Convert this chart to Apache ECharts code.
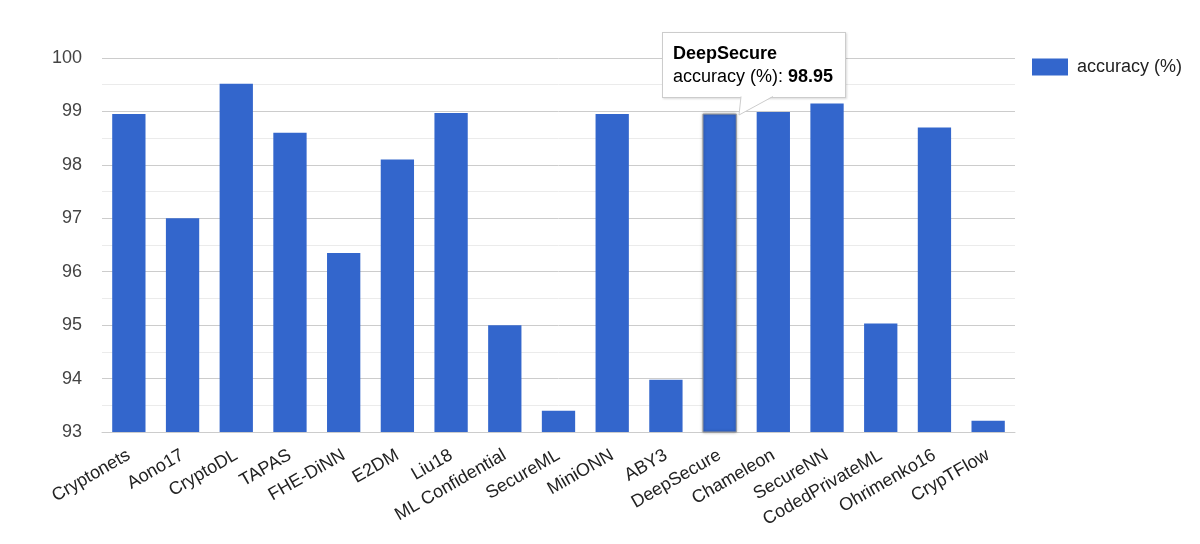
<!DOCTYPE html>
<html>
<head>
<meta charset="utf-8">
<script src="https://cdn.jsdelivr.net/npm/echarts@6/dist/echarts.min.js"></script>
<style>
  html, body { margin: 0; padding: 0; background: #fff; }
  #bars { width: 1200px; height: 544px; }
</style>
</head>
<body>
<div id="bars"></div>
<script>
var methods = ['Cryptonets', 'Aono17', 'CryptoDL', 'TAPAS', 'FHE-DiNN', 'E2DM', 'Liu18',
  'ML Confidential', 'SecureML', 'MiniONN', 'ABY3', 'DeepSecure', 'Chameleon', 'SecureNN',
  'CodedPrivateML', 'Ohrimenko16', 'CrypTFlow'];
var accuracy = [98.95, 97.0, 99.52, 98.6, 96.35, 98.1, 98.97, 95.0, 93.4, 98.95, 93.98,
  98.95, 98.99, 99.15, 95.03, 98.7, 93.21];
var seriesName = 'accuracy (%)';
var shownIndex = 11; // DeepSecure, tooltip open in the picture

var font = "Arial, 'Liberation Sans', sans-serif";

function tipHtml(p) {
  // box + little tail pointing down to the bar
  return '<div style="font-family:' + font + ';font-size:18px;color:#000;line-height:23px;">' +
    '<b>' + p.name + '</b><br>' + p.seriesName + ': <b>' + p.value.toFixed(2) + '</b></div>' +
    '<svg width="40" height="22" style="position:absolute;left:76px;top:63px;overflow:visible">' +
    '<polygon points="2,0 34,0 0,19" fill="#fff" stroke="none"/>' +
    '<polyline points="2,0.5 0,19 34,0.5" fill="none" stroke="#ccc" stroke-width="1"/></svg>';
}

var chart = echarts.init(document.getElementById('bars'), null, { renderer: 'canvas' });
chart.setOption({
  animation: false,
  textStyle: { fontFamily: font },
  grid: { left: 102, right: 185, top: 58, bottom: 112 },
  legend: {
    left: 1027, top: 53,
    itemWidth: 36, itemHeight: 17, itemGap: 10,
    icon: 'rect',
    textStyle: { fontSize: 18, color: '#222', padding: [0, 0, 0, 4] },
    selectedMode: false
  },
  tooltip: {
    trigger: 'item',
    triggerOn: 'none',
    alwaysShowContent: true,
    transitionDuration: 0,
    backgroundColor: '#fff',
    borderColor: '#ccc',
    borderWidth: 1,
    padding: [9, 12, 9, 10],
    textStyle: { fontSize: 18, color: '#000' },
    extraCssText: 'border-radius:0;box-shadow:1px 1px 2px rgba(0,0,0,0.15);overflow:visible;',
    position: function () { return [662, 32]; },
    formatter: tipHtml
  },
  xAxis: {
    type: 'category',
    data: methods,
    axisTick: { show: false },
    axisLine: { lineStyle: { color: '#ccc', width: 1 } },
    axisLabel: { rotate: 30, fontSize: 18, color: '#222', margin: 22, interval: 0 }
  },
  yAxis: {
    type: 'value',
    min: 93, max: 100, interval: 1,
    axisLabel: { fontSize: 18, color: '#444', margin: 20 },
    axisLine: { show: false },
    axisTick: { show: false },
    splitLine: { lineStyle: { color: '#ccc' } },
    minorTick: { show: false, splitNumber: 2 },
    minorSplitLine: { show: true, lineStyle: { color: '#ebebeb' } }
  },
  series: [{
    name: seriesName,
    type: 'bar',
    data: accuracy,
    barCategoryGap: '38%',
    itemStyle: { color: '#3366cc' },
    emphasis: {
      itemStyle: { color: '#3366cc', borderColor: '#999', borderWidth: 1,
        shadowColor: 'rgba(0,0,0,0.35)', shadowBlur: 3 }
    }
  }]
});
chart.dispatchAction({ type: 'highlight', seriesIndex: 0, dataIndex: shownIndex });
chart.dispatchAction({ type: 'showTip', seriesIndex: 0, dataIndex: shownIndex });
</script>
</body>
</html>
